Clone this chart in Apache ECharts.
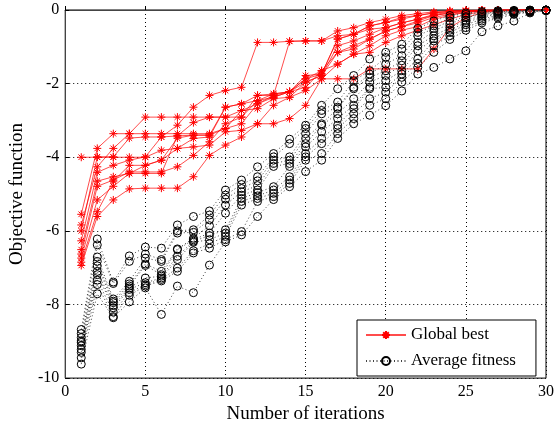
<!DOCTYPE html>
<html><head><meta charset="utf-8">
<script src="https://cdn.jsdelivr.net/npm/echarts@6/dist/echarts.min.js"></script>
<style>html,body{margin:0;padding:0;background:#fff}#c{width:557px;height:429px}</style>
</head><body><div id="c"></div>
<script>
const iterations = [1,2,3,4,5,6,7,8,9,10,11,12,13,14,15,16,17,18,19,20,21,22,23,24,25,26,27,28,29,30];
const xTicks = [0,5,10,15,20,25,30];
const yTicks = [-10,-8,-6,-4,-2,0];

// Global best, one array per run
const bestRun1 = [-4.0,-4.0,-4.0,-4.0,-4.0,-3.81,-3.76,-3.72,-3.67,-3.31,-3.27,-3.09,-2.59,-2.37,-1.96,-1.78,-1.15,-0.97,-0.79,-0.57,-0.45,-0.35,-0.2,-0.12,-0.06,-0.03,-0.01,0,0,0];
const bestRun2 = [-5.55,-3.76,-3.36,-3.36,-3.36,-3.36,-3.36,-3.36,-3.36,-3.22,-2.73,-2.68,-2.41,-2.37,-2.19,-1.87,-1.47,-1.20,-0.97,-0.70,-0.55,-0.45,-0.25,-0.15,-0.06,-0.03,-0.01,0,0,0];
const bestRun3 = [-5.84,-4.26,-3.76,-3.36,-2.91,-2.91,-2.91,-2.91,-2.91,-2.91,-2.91,-2.32,-2.32,-0.85,-0.84,-0.84,-0.70,-0.66,-0.43,-0.34,-0.25,-0.15,-0.08,-0.04,-0.02,-0.01,0,0,0,0];
const bestRun4 = [-6.0,-3.99,-3.99,-3.48,-3.45,-3.45,-3.42,-3.40,-3.40,-2.64,-2.55,-2.46,-2.37,-2.22,-1.87,-1.74,-0.79,-0.66,-0.52,-0.48,-0.35,-0.25,-0.15,-0.08,-0.04,-0.02,-0.01,0,0,0];
const bestRun5 = [-6.27,-4.41,-4.22,-4.08,-3.99,-3.45,-3.13,-2.64,-2.32,-2.19,-2.10,-0.88,-0.88,-0.85,-0.84,-0.84,-0.57,-0.48,-0.34,-0.25,-0.15,-0.1,-0.05,-0.02,-0.01,0,0,0,0,0];
const bestRun6 = [-6.51,-4.65,-4.53,-4.44,-4.22,-4.08,-3.48,-3.40,-3.40,-3.22,-3.09,-2.55,-2.32,-2.22,-1.96,-1.78,-0.97,-0.84,-0.66,-0.48,-0.35,-0.25,-0.12,-0.06,-0.03,-0.01,0,0,0,0];
const bestRun7 = [-6.63,-4.79,-4.62,-4.40,-4.40,-4.40,-4.26,-3.95,-3.58,-3.09,-2.91,-2.46,-2.28,-2.22,-2.10,-1.65,-1.15,-1.06,-0.79,-0.57,-0.45,-0.3,-0.15,-0.08,-0.04,-0.02,-0.01,0,0,0];
const bestRun8 = [-6.74,-5.16,-4.79,-4.44,-4.44,-4.44,-3.42,-3.06,-2.91,-2.91,-2.73,-2.55,-2.37,-2.22,-1.78,-1.74,-0.79,-0.66,-0.43,-0.34,-0.2,-0.15,-0.08,-0.04,-0.02,-0.01,0,0,0,0];
const bestRun9 = [-6.85,-5.48,-4.65,-4.22,-4.22,-4.08,-3.76,-3.49,-3.45,-2.64,-2.55,-2.32,-2.28,-2.22,-1.87,-1.65,-1.47,-1.20,-1.15,-0.88,-0.70,-0.55,-0.40,-0.25,-0.12,-0.05,-0.02,-0.01,0,0];
const bestRun10 = [-6.94,-5.61,-5.16,-4.86,-4.84,-4.84,-4.84,-4.53,-3.95,-3.67,-3.45,-3.09,-3.09,-2.95,-2.59,-1.87,-1.87,-1.87,-1.60,-1.60,-1.60,-1.60,-1.06,-0.48,-0.21,-0.07,-0.03,-0.01,0,0];

// Average fitness, one array per run
const avgRun1 = [-8.68,-6.22,-7.39,-6.68,-6.44,-6.47,-5.84,-5.61,-5.46,-4.89,-4.62,-4.26,-3.90,-3.51,-3.13,-2.59,-2.14,-1.78,-1.33,-1.15,-0.93,-0.50,-0.30,-0.15,-0.08,-0.04,-0.02,-0.01,0,0];
const avgRun2 = [-8.79,-6.38,-7.43,-6.83,-6.63,-6.78,-6.00,-5.97,-5.57,-5.03,-4.74,-4.53,-3.99,-3.63,-3.22,-2.73,-2.50,-1.92,-1.65,-1.29,-1.06,-0.61,-0.43,-0.21,-0.12,-0.07,-0.04,-0.02,-0.01,0];
const avgRun3 = [-8.90,-6.71,-7.85,-7.37,-6.74,-6.83,-6.06,-6.04,-5.70,-5.14,-4.85,-4.64,-4.08,-3.99,-3.36,-2.82,-2.64,-2.10,-1.74,-1.47,-1.24,-0.70,-0.50,-0.30,-0.18,-0.10,-0.05,-0.03,-0.01,0];
const avgRun4 = [-8.99,-6.83,-7.91,-7.44,-6.90,-7.10,-6.49,-6.20,-5.86,-5.30,-4.94,-4.77,-4.17,-4.08,-3.49,-3.09,-2.68,-2.14,-1.83,-1.65,-1.38,-0.88,-0.57,-0.38,-0.21,-0.12,-0.07,-0.04,-0.02,0];
const avgRun5 = [-9.03,-6.95,-7.95,-7.50,-6.94,-7.19,-6.51,-6.24,-6.06,-5.52,-5.03,-4.89,-4.25,-4.17,-3.63,-3.13,-2.82,-2.41,-1.96,-1.78,-1.50,-0.97,-0.70,-0.48,-0.28,-0.16,-0.09,-0.05,-0.02,0];
const avgRun6 = [-9.12,-7.10,-8.03,-7.55,-7.28,-7.23,-6.69,-6.28,-6.13,-5.97,-5.12,-4.96,-4.80,-4.25,-3.72,-3.31,-2.95,-2.59,-2.10,-1.92,-1.65,-1.11,-0.78,-0.55,-0.34,-0.20,-0.11,-0.06,-0.03,-0.01];
const avgRun7 = [-9.22,-7.19,-8.09,-7.59,-7.41,-7.28,-6.78,-6.31,-6.24,-6.06,-5.20,-5.05,-4.89,-4.53,-3.90,-3.49,-3.13,-2.68,-2.14,-2.10,-1.74,-1.33,-0.84,-0.61,-0.40,-0.25,-0.14,-0.07,-0.04,-0.01];
const avgRun8 = [-9.30,-7.34,-8.21,-7.68,-7.46,-7.32,-7.01,-6.54,-6.35,-6.15,-5.30,-5.12,-4.98,-4.62,-3.99,-3.63,-3.22,-2.82,-2.41,-2.23,-1.83,-1.45,-0.97,-0.70,-0.48,-0.30,-0.18,-0.09,-0.05,-0.01];
const avgRun9 = [-9.45,-7.46,-8.33,-7.75,-7.50,-7.36,-7.10,-6.60,-6.47,-6.24,-6.02,-5.20,-5.07,-4.71,-4.08,-3.90,-3.36,-2.95,-2.59,-2.41,-1.96,-1.56,-1.15,-0.80,-0.55,-0.35,-0.22,-0.12,-0.06,-0.01];
const avgRun10 = [-9.62,-7.71,-8.36,-7.93,-7.55,-8.27,-7.50,-7.68,-6.93,-6.30,-6.11,-5.61,-5.15,-4.80,-4.39,-4.08,-3.49,-3.09,-2.86,-2.60,-2.20,-1.74,-1.56,-1.33,-1.11,-0.59,-0.43,-0.30,-0.08,-0.02];

const bestRuns = [bestRun1,bestRun2,bestRun3,bestRun4,bestRun5,bestRun6,bestRun7,bestRun8,bestRun9,bestRun10];
const avgRuns = [avgRun1,avgRun2,avgRun3,avgRun4,avgRun5,avgRun6,avgRun7,avgRun8,avgRun9,avgRun10];

const FONT = 'Liberation Serif';
const asterisk = 'path://M5,0 L5,10 M0,5 L10,5 M1.5,1.5 L8.5,8.5 M8.5,1.5 L1.5,8.5';
const pair = arr => iterations.map((x, i) => [x, arr[i]]);

const series = [];
bestRuns.forEach(r => series.push({
  name: 'Global best', type: 'line', data: pair(r),
  symbol: asterisk, symbolSize: 8,
  lineStyle: {color: 'rgba(255,0,0,0.7)', width: 1},
  itemStyle: {color: 'rgba(255,0,0,0)', borderColor: '#ff0000', borderWidth: 1},
  z: 2
}));
avgRuns.forEach(r => series.push({
  name: 'Average fitness', type: 'line', data: pair(r),
  symbol: 'circle', symbolSize: 8,
  lineStyle: {color: '#444', width: 1, type: [1, 2.5]},
  itemStyle: {color: 'rgba(0,0,0,0)', borderColor: '#000', borderWidth: 1},
  z: 3
}));

const chart = echarts.init(document.getElementById('c'));
chart.setOption({
  animation: false,
  backgroundColor: '#fff',
  grid: {left: 60, top: 10, width: 490, height: 371, show: true, borderColor: '#000', borderWidth: 1, backgroundColor: 'transparent'},
  xAxis: {
    type: 'value', min: xTicks[0], max: xTicks[xTicks.length-1], interval: 5,
    name: 'Number of iterations', nameLocation: 'middle', nameGap: 24,
    nameTextStyle: {fontFamily: FONT, fontSize: 19, color: '#000'},
    axisLine: {lineStyle: {color: '#444', width: 1}},
    axisTick: {inside: true, length: 4, lineStyle: {color: '#000'}},
    axisLabel: {fontFamily: FONT, fontSize: 16, color: '#000', margin: 6},
    splitLine: {show: true, lineStyle: {color: '#000', type: [1, 3], width: 1}}
  },
  yAxis: {
    type: 'value', min: yTicks[0], max: yTicks[yTicks.length-1], interval: 2,
    name: 'Objective function', nameLocation: 'middle', nameGap: 34,
    nameTextStyle: {fontFamily: FONT, fontSize: 19, color: '#000'},
    axisLine: {show: true, lineStyle: {color: '#444', width: 1}},
    axisTick: {show: true, inside: true, length: 4, lineStyle: {color: '#000'}},
    axisLabel: {fontFamily: FONT, fontSize: 16, color: '#000', margin: 6},
    splitLine: {show: true, lineStyle: {color: '#000', type: [1, 3], width: 1}}
  },
  legend: {
    data: ['Global best', 'Average fitness'],
    orient: 'vertical', left: 357, top: 320,
    backgroundColor: '#fff', borderColor: '#000', borderWidth: 1,
    padding: [5, 20, 5, 8], itemGap: 6, itemWidth: 40, itemHeight: 10,
    textStyle: {fontFamily: FONT, fontSize: 17, color: '#000', lineHeight: 20},
    selectedMode: false
  },
  series: series
});
</script>
</body></html>
